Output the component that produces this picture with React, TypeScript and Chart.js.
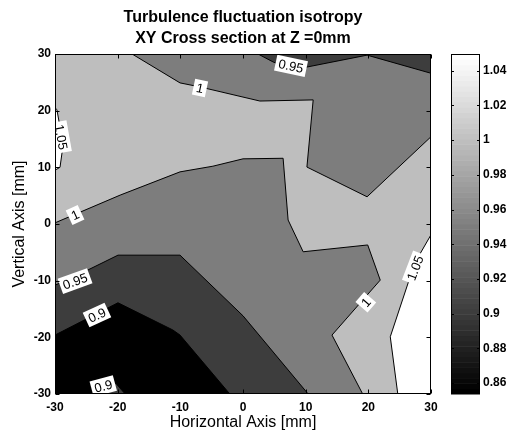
import React, { useEffect, useRef } from 'react';
import { Chart, registerables } from 'chart.js';
Chart.register(...registerables);

// ---------- data (mm, mm) ----------
const xTicks = [-30, -20, -10, 0, 10, 20, 30];
const yTicks = [-30, -20, -10, 0, 10, 20, 30];
const cbTicks = [0.86, 0.88, 0.9, 0.92, 0.94, 0.96, 0.98, 1, 1.02, 1.04];
const cMin = 0.8537;
const cMax = 1.0496;
const baseLevel = 0.8537;
const levels = [0.9, 0.95, 1.0, 1.05];

// contour lines
const c090a = [[-30, -19.6], [-19.95, -13.9], [-11.2, -18.7], [-10.05, -19.6], [-2.1, -30]];
const c090b = [[-24.5, -30], [-20.3, -28.1], [-18.8, -30]];
const c095a = [[-30, -10.8], [-27.3, -9.5], [-19.95, -5.5], [-10.05, -5.5], [0, -16.2], [10.4, -30]];
const c095b = [[2.4, 30], [4.8, 28.6], [7.5, 27.4], [10.2, 27.7], [19.8, 29.8], [30, 26.6]];
const c100a = [[-17.7, 30], [-10.05, 24.9], [-6.9, 24.2], [0, 22.4], [2.7, 21.7], [11.2, 21.9], [10.2, 10.05], [19.8, 4.8], [30, 15.4]];
const c100b = [[-30, 0.2], [-19.6, 5.1], [-10.05, 9.2], [-4.8, 10.2], [0, 11.5], [6.4, 11.6], [7.2, 0.7], [9.6, -4.9], [19.9, -3.7], [21.9, -9.9], [14.2, -19.6], [19.1, -30]];
const c105a = [[-30, 20.5], [-29.7, 20.2], [-28.7, 14], [-29.2, 10], [-30, 9.5]];
const c105b = [[30, -1.9], [27.4, -6.9], [23.5, -19.9], [24.7, -30]];

// regions at or above each level (filled in order)
const region090 = [
  [[-30, 30], [30, 30], [30, -30], ...[...c090a].reverse()],
  [...c090b],
];
const region095 = [
  [[-30, 30], ...c095b, [30, -30], ...[...c095a].reverse()],
];
const region100 = [
  [[-30, 30], ...c100a, [30, -30], ...[...c100b].reverse()],
];
const region105 = [
  [...c105a],
  [...c105b, [30, -30]],
];
const regions = [region090, region095, region100, region105];

// contour labels
const labelX = [-6.86, 7.66, -29.0, -26.8, -26.8, -23.3, -22.3, 19.6, 27.45];
const labelY = [24.0, 27.9, 15.35, 1.6, -10.06, -16.06, -28.6, -13.8, -7.76];
const labelText = ['1', '0.95', '1.05', '1', '0.95', '0.9', '0.9', '1', '1.05'];
const labelAngle = [12, 12, 80, -25, -20, -25, -15, -49, -69];

const FONT = 'Liberation Sans, Arial, Helvetica, sans-serif';

function grayFor(v: number) {
  let t = (v - cMin) / (cMax - cMin);
  t = Math.max(0, Math.min(1, t));
  const idx = Math.min(63, Math.floor(t * 64));
  const g = Math.round((idx / 63) * 255);
  return `rgb(${g},${g},${g})`;
}

const fillPlugin = {
  id: 'contourFill',
  beforeDatasetsDraw(chart: any) {
    const { ctx, chartArea: a, scales } = chart;
    const sx = scales.x, sy = scales.y;
    ctx.save();
    ctx.beginPath();
    ctx.rect(a.left, a.top, a.right - a.left, a.bottom - a.top);
    ctx.clip();
    ctx.fillStyle = grayFor(baseLevel);
    ctx.fillRect(a.left, a.top, a.right - a.left, a.bottom - a.top);
    regions.forEach((polys, i) => {
      ctx.fillStyle = grayFor(levels[i]);
      polys.forEach((poly) => {
        ctx.beginPath();
        poly.forEach(([x, y], k) => {
          const px = sx.getPixelForValue(x), py = sy.getPixelForValue(y);
          if (k === 0) ctx.moveTo(px, py); else ctx.lineTo(px, py);
        });
        ctx.closePath();
        ctx.fill();
      });
    });
    ctx.restore();
  },
  afterDatasetsDraw(chart: any) {
    const { ctx, chartArea: a, scales } = chart;
    const sx = scales.x, sy = scales.y;
    ctx.save();
    ctx.beginPath();
    ctx.rect(a.left, a.top, a.right - a.left, a.bottom - a.top);
    ctx.clip();
    ctx.font = `13px ${FONT}`;
    ctx.textAlign = 'center';
    ctx.textBaseline = 'middle';
    labelText.forEach((t, i) => {
      const px = sx.getPixelForValue(labelX[i]);
      const py = sy.getPixelForValue(labelY[i]);
      const w = ctx.measureText(t).width + 6;
      const h = 16;
      ctx.save();
      ctx.translate(px, py);
      ctx.rotate((labelAngle[i] * Math.PI) / 180);
      ctx.fillStyle = '#fff';
      ctx.fillRect(-w / 2, -h / 2, w, h);
      ctx.fillStyle = '#000';
      ctx.fillText(t, 0, 1);
      ctx.restore();
    });
    ctx.restore();

    // axes box and inward ticks
    ctx.save();
    ctx.strokeStyle = '#000';
    ctx.lineWidth = 1;
    const L = Math.round(a.left) + 0.5, R = Math.round(a.right) - 0.5;
    const T = Math.round(a.top) + 0.5, B = Math.round(a.bottom) - 0.5;
    ctx.strokeRect(L, T, R - L, B - T);
    ctx.beginPath();
    xTicks.forEach((v) => {
      const px = Math.round(sx.getPixelForValue(v)) + 0.5;
      ctx.moveTo(px, B); ctx.lineTo(px, B - 4);
      ctx.moveTo(px, T); ctx.lineTo(px, T + 4);
    });
    yTicks.forEach((v) => {
      const py = Math.round(sy.getPixelForValue(v)) + 0.5;
      ctx.moveTo(L, py); ctx.lineTo(L + 4, py);
      ctx.moveTo(R, py); ctx.lineTo(R - 4, py);
    });
    ctx.stroke();

    // colorbar
    const cb = scales.cb;
    const cl = Math.round(a.right) + 20, cr = Math.round(a.right) + 49;
    const ct = cb.getPixelForValue(cMax), cbt = cb.getPixelForValue(cMin);
    const n = 64;
    for (let k = 0; k < n; k++) {
      const v0 = cMin + ((cMax - cMin) * k) / n;
      const v1 = cMin + ((cMax - cMin) * (k + 1)) / n;
      const y0 = cb.getPixelForValue(v0), y1 = cb.getPixelForValue(v1);
      const g = Math.round((k / (n - 1)) * 255);
      ctx.fillStyle = `rgb(${g},${g},${g})`;
      ctx.fillRect(cl, y1, cr - cl, y0 - y1 + 0.5);
    }
    ctx.strokeStyle = '#000';
    ctx.strokeRect(cl + 0.5, Math.round(ct) + 0.5, cr - cl - 1, Math.round(cbt - ct) - 1);
    ctx.beginPath();
    cbTicks.forEach((v) => {
      const py = Math.round(cb.getPixelForValue(v)) + 0.5;
      ctx.moveTo(cl, py); ctx.lineTo(cl + 3, py);
      ctx.moveTo(cr, py); ctx.lineTo(cr - 3, py);
    });
    ctx.stroke();
    ctx.restore();
  },
};

const lines = [c090a, c090b, c095a, c095b, c100a, c100b, c105a, c105b];

export default function App() {
  const ref = useRef<HTMLCanvasElement | null>(null);
  useEffect(() => {
    if (!ref.current) return;
    const tickFont = { family: FONT, size: 12, weight: 'bold' as const };
    const chart = new Chart(ref.current, {
      type: 'scatter',
      data: {
        datasets: lines.map((l) => ({
          data: l.map(([x, y]) => ({ x, y })),
          showLine: true,
          borderColor: '#000',
          borderWidth: 1,
          pointRadius: 0,
          fill: false,
          tension: 0,
        })),
      },
      options: {
        animation: false,
        responsive: false,
        devicePixelRatio: 1,
        layout: { padding: 0 },
        plugins: {
          legend: { display: false },
          tooltip: { enabled: false },
          title: {
            display: true,
            fullSize: false,
            text: ['Turbulence fluctuation isotropy', 'XY Cross section at Z =0mm'],
            color: '#000',
            font: { family: FONT, size: 16, weight: 'bold', lineHeight: 1.3125 },
            padding: { top: 7.5, bottom: 4.5 },
          },
        },
        scales: {
          x: {
            type: 'linear',
            min: -30,
            max: 30,
            afterBuildTicks: (s: any) => { s.ticks = xTicks.map((v) => ({ value: v })); },
            grid: { display: false, drawTicks: false },
            border: { display: false },
            ticks: { color: '#000', font: tickFont, padding: 6, maxRotation: 0 },
            title: {
              display: true,
              text: 'Horizontal Axis [mm]',
              color: '#000',
              font: { family: FONT, size: 16 },
              padding: { top: 0, bottom: 1.5 },
            },
            afterFit: (s: any) => { s.height = 40; },
          },
          y: {
            type: 'linear',
            position: 'left',
            min: -30,
            max: 30,
            afterBuildTicks: (s: any) => { s.ticks = yTicks.map((v) => ({ value: v })); },
            grid: { display: false, drawTicks: false },
            border: { display: false },
            ticks: { color: '#000', font: tickFont, padding: 4 },
            title: {
              display: true,
              text: 'Vertical Axis [mm]',
              color: '#000',
              font: { family: FONT, size: 16 },
              padding: { top: 10, bottom: 0 },
            },
            afterFit: (s: any) => { s.width = 55; },
          },
          cb: {
            type: 'linear',
            position: 'right',
            min: cMin,
            max: cMax,
            afterBuildTicks: (s: any) => { s.ticks = cbTicks.map((v) => ({ value: v })); },
            grid: { display: false, drawTicks: true, tickLength: 49 },
            border: { display: false },
            ticks: {
              color: '#000',
              font: tickFont,
              padding: 3,
              callback: (v: any) => String(Math.round(Number(v) * 100) / 100),
            },
            afterFit: (s: any) => { s.width = 77; },
          },
        },
      },
      plugins: [fillPlugin],
    } as any);
    return () => chart.destroy();
  }, []);
  return (
    <div style={{ position: 'absolute', left: 0, top: 0, width: 508, height: 434, background: '#fff' }}>
      <canvas ref={ref} width={508} height={434} style={{ display: 'block', width: 508, height: 434 }} />
    </div>
  );
}
